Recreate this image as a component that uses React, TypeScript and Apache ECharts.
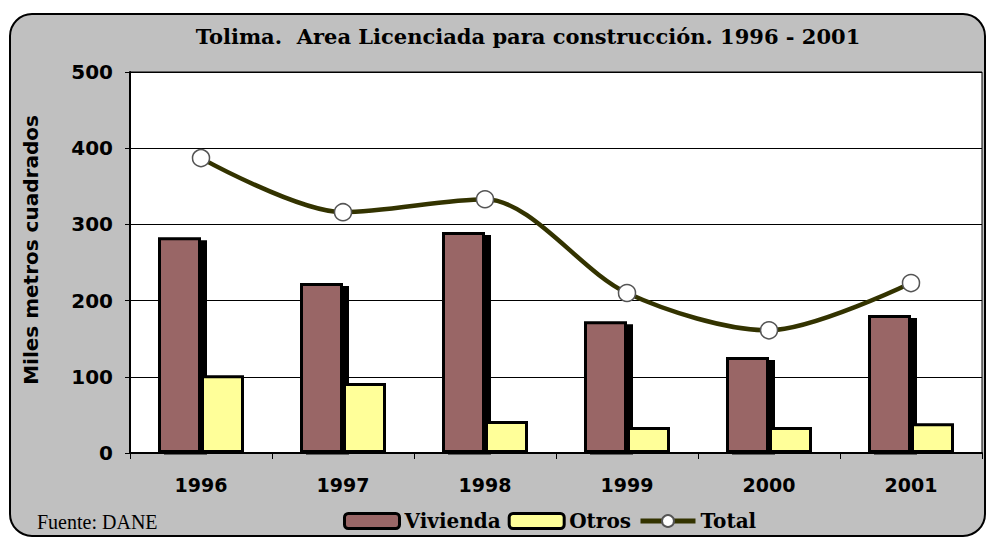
import React, { useEffect, useRef } from "react";
import * as echarts from "echarts";

const years = ["1996", "1997", "1998", "1999", "2000", "2001"];
const vivienda = [283, 223, 290, 173, 126, 181];
const otros = [102, 92, 42, 34, 34, 39];
const total = [387, 316, 333, 210, 161, 223];
const yTicks = [0, 100, 200, 300, 400, 500];

export default function App() {
  const ref = useRef<HTMLDivElement>(null);
  useEffect(() => {
    const chart = echarts.init(ref.current!, null, { renderer: "svg" });
    chart.setOption({
      animation: false,
      backgroundColor: "#ffffff",
      graphic: [
        {
          type: "rect",
          z: -10,
          shape: { x: 10, y: 14, width: 975, height: 522, r: 22 },
          style: { fill: "#C0C0C0", stroke: "#000", lineWidth: 2 },
        },
        {
          type: "rect",
          z: 4,
          shape: { x: 131, y: 454.5, width: 851, height: 4 },
          style: { fill: "#C0C0C0" },
        },
        {
          type: "text",
          x: 37,
          y: 522,
          style: {
            text: "Fuente: DANE",
            font: "20px 'Liberation Serif'",
            fill: "#000",
            textVerticalAlign: "middle",
          },
        },
        {
          type: "text",
          x: 31,
          y: 250,
          rotation: Math.PI / 2,
          style: {
            text: "Miles metros cuadrados",
            font: "bold 20px 'DejaVu Sans'",
            fill: "#000",
            textAlign: "center",
            textVerticalAlign: "middle",
          },
        },
      ],
      title: {
        text: "Tolima.  Area Licenciada para construcción. 1996 - 2001",
        left: 523,
        textAlign: "center",
        top: 21,
        textStyle: {
          fontFamily: "DejaVu Serif",
          fontWeight: "bold",
          fontSize: 21,
          color: "#000",
        },
      },
      legend: {
        left: 343,
        top: 510,
        padding: 0,
        itemWidth: 55,
        itemHeight: 15,
        itemGap: 7,
        textStyle: {
          fontFamily: "DejaVu Serif",
          fontWeight: "bold",
          fontSize: 20,
          lineHeight: 22,
          color: "#000",
        },
        data: [
          { name: "Vivienda", itemStyle: { borderWidth: 3, borderColor: "#000" } },
          { name: "Otros", itemStyle: { borderWidth: 3, borderColor: "#000" } },
          { name: "Total", lineStyle: { width: 5, color: "#333300" } },
        ],
      },
      grid: {
        left: 130,
        right: 5,
        top: 72,
        bottom: 84,
        show: true,
        backgroundColor: "#ffffff",
        borderColor: "#000",
        borderWidth: 1,
      },
      xAxis: {
        type: "category",
        data: years,
        z: 5,
        axisLine: { lineStyle: { color: "#000", width: 2 } },
        axisTick: { show: true, length: 6, lineStyle: { color: "#000" } },
        axisLabel: {
          margin: 22,
          fontFamily: "DejaVu Sans",
          fontWeight: "bold",
          fontSize: 19,
          color: "#000",
        },
      },
      yAxis: {
        type: "value",
        min: 0,
        max: 500,
        interval: 100,
        axisLine: { show: true, lineStyle: { color: "#000", width: 2 } },
        axisTick: { show: true, length: 5, lineStyle: { color: "#000" } },
        splitLine: { show: true, lineStyle: { color: "#000", width: 1 } },
        axisLabel: {
          margin: 17,
          fontFamily: "DejaVu Sans",
          fontWeight: "bold",
          fontSize: 20,
          color: "#000",
          formatter: (v: number) => (yTicks.includes(v) ? String(v) : ""),
        },
      },
      series: [
        {
          name: "Vivienda",
          type: "bar",
          data: vivienda,
          barWidth: 43,
          barGap: "0%",
          itemStyle: {
            color: "#996666",
            borderColor: "#000",
            borderWidth: 3,
            shadowColor: "#000",
            shadowOffsetX: 6,
            shadowOffsetY: 3,
            shadowBlur: 0,
          },
        },
        {
          name: "Otros",
          type: "bar",
          data: otros,
          barWidth: 43,
          barGap: "0%",
          z: 3,
          itemStyle: { color: "#FFFF99", borderColor: "#000", borderWidth: 3 },
        },
        {
          name: "Total",
          type: "line",
          data: total,
          smooth: 0.3,
          z: 6,
          symbol: "circle",
          symbolSize: 17,
          lineStyle: { color: "#333300", width: 4.5 },
          itemStyle: { color: "#ffffff", borderColor: "#555555", borderWidth: 1.5 },
        },
      ],
    });
    return () => chart.dispose();
  }, []);
  return (
    <div
      ref={ref}
      style={{ position: "fixed", left: 0, top: 0, width: 987, height: 537 }}
    />
  );
}
